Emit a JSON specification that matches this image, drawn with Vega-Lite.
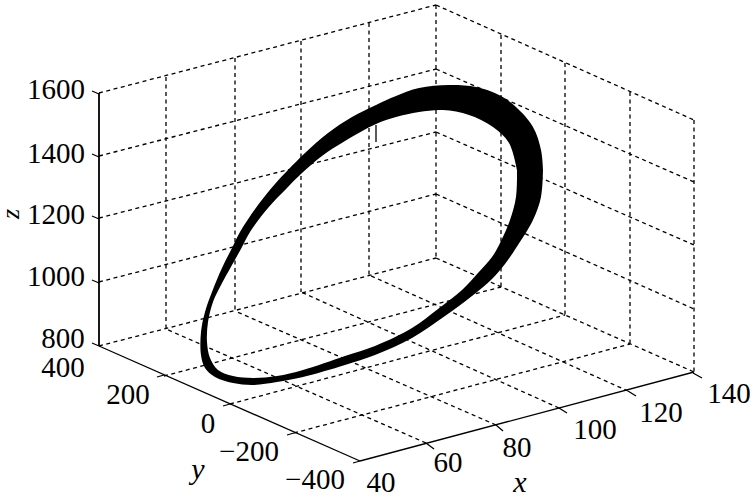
{
"$schema":"https://vega.github.io/schema/vega-lite/v6.json",
"width":753,"height":497,"padding":0,
"autosize":{"type":"none"},
"background":"white",
"view":{"stroke":null},
"datasets":{
"grid":[
{"h":166,"v":77,"h2":166,"v2":329},{"h":235,"v":58,"h2":235,"v2":311},{"h":301,"v":41,"h2":301,"v2":292},{"h":369,"v":23,"h2":369,"v2":275},{"h":436,"v":5,"h2":436,"v2":258},
{"h":501,"v":35,"h2":501,"v2":287},{"h":565,"v":63,"h2":565,"v2":315},{"h":630,"v":92,"h2":630,"v2":344},{"h":694,"v":120,"h2":694,"v2":372},
{"h":99,"v":93,"h2":436,"v2":5},{"h":99,"v":156,"h2":436,"v2":69},{"h":99,"v":218,"h2":436,"v2":132},{"h":99,"v":282,"h2":436,"v2":194},{"h":99,"v":346,"h2":436,"v2":258},
{"h":436,"v":5,"h2":694,"v2":120},{"h":436,"v":69,"h2":694,"v2":182},{"h":436,"v":132,"h2":694,"v2":245},{"h":436,"v":194,"h2":694,"v2":309},{"h":436,"v":258,"h2":694,"v2":372},
{"h":426,"v":443,"h2":166,"v2":329},{"h":496,"v":425,"h2":235,"v2":311},{"h":559,"v":408,"h2":301,"v2":292},{"h":628,"v":391,"h2":369,"v2":275},
{"h":164,"v":376,"h2":501,"v2":287},{"h":230,"v":404,"h2":565,"v2":315},{"h":294,"v":433,"h2":630,"v2":344}
],
"axes":[
{"h":360,"v":461,"h2":99,"v2":346},{"h":360,"v":461,"h2":694,"v2":372},
{"h":92,"v":91,"h2":99,"v2":94},{"h":92,"v":154,"h2":99,"v2":157},{"h":92,"v":216,"h2":99,"v2":219},{"h":92,"v":280,"h2":99,"v2":283},{"h":92,"v":343,"h2":99,"v2":346},
{"h":157,"v":377,"h2":164,"v2":375},{"h":223,"v":406,"h2":230,"v2":404},{"h":287,"v":435,"h2":294,"v2":433},{"h":353,"v":463,"h2":360,"v2":461},
{"h":426,"v":443,"h2":434,"v2":449},{"h":496,"v":425,"h2":503,"v2":431},{"h":559,"v":408,"h2":567,"v2":413},{"h":628,"v":391,"h2":636,"v2":396},{"h":693,"v":373,"h2":702,"v2":378},
{"h":376,"v":125,"h2":376,"v2":142}
],
"zaxis":[{"h":99,"v":93,"h2":99,"v2":346}],
"orbit":[
{"o":1,"h":543,"v":170},{"o":2,"h":541,"v":197},{"o":3,"h":533,"v":220},{"o":4,"h":516,"v":248},{"o":5,"h":505,"v":264},{"o":6,"h":492,"v":279},{"o":7,"h":472,"v":296},{"o":8,"h":445,"v":316},{"o":9,"h":412,"v":338},{"o":10,"h":375,"v":355},{"o":11,"h":345,"v":365},{"o":12,"h":303,"v":377},{"o":13,"h":277,"v":382},{"o":14,"h":253,"v":385},{"o":15,"h":233,"v":383},{"o":16,"h":215,"v":377},{"o":17,"h":205,"v":368},{"o":18,"h":201,"v":355},{"o":19,"h":201,"v":332},{"o":20,"h":205,"v":312},{"o":21,"h":212,"v":292},{"o":22,"h":222,"v":268},{"o":23,"h":232,"v":248},{"o":24,"h":240,"v":232},{"o":25,"h":258,"v":205},{"o":26,"h":275,"v":184},{"o":27,"h":288,"v":170},{"o":28,"h":305,"v":153},{"o":29,"h":328,"v":133},{"o":30,"h":352,"v":117},{"o":31,"h":376,"v":105},{"o":32,"h":396,"v":96},{"o":33,"h":419,"v":88},{"o":34,"h":449,"v":85},{"o":35,"h":476,"v":87},{"o":36,"h":499,"v":95},{"o":37,"h":516,"v":107},{"o":38,"h":533,"v":127},{"o":39,"h":541,"v":150},{"o":40,"h":543,"v":170},{"o":41,"h":543,"v":170},
{"o":42,"h":517,"v":170},{"o":43,"h":517,"v":170},{"o":44,"h":509,"v":143},{"o":45,"h":493,"v":127},{"o":46,"h":469,"v":115},{"o":47,"h":443,"v":110},{"o":48,"h":419,"v":112},{"o":49,"h":396,"v":117},{"o":50,"h":376,"v":124},{"o":51,"h":345,"v":141},{"o":52,"h":322,"v":156},{"o":53,"h":302,"v":173},{"o":54,"h":287,"v":188},{"o":55,"h":268,"v":208},{"o":56,"h":250,"v":232},{"o":57,"h":242,"v":247},{"o":58,"h":232,"v":265},{"o":59,"h":220,"v":287},{"o":60,"h":213,"v":302},{"o":61,"h":208,"v":322},{"o":62,"h":207,"v":342},{"o":63,"h":210,"v":358},{"o":64,"h":218,"v":370},{"o":65,"h":233,"v":376},{"o":66,"h":253,"v":378},{"o":67,"h":277,"v":376},{"o":68,"h":303,"v":370},{"o":69,"h":345,"v":356},{"o":70,"h":375,"v":346},{"o":71,"h":412,"v":328},{"o":72,"h":438,"v":309},{"o":73,"h":462,"v":290},{"o":74,"h":478,"v":273},{"o":75,"h":492,"v":257},{"o":76,"h":501,"v":241},{"o":77,"h":510,"v":220},{"o":78,"h":516,"v":197},{"o":79,"h":517,"v":170}
],
"labels":[
{"t":"1600","h":56,"v":90},{"t":"1400","h":56,"v":154},{"t":"1200","h":56,"v":215},{"t":"1000","h":56,"v":277},{"t":"800","h":63,"v":339},
{"t":"400","h":63,"v":368},{"t":"200","h":128,"v":395},{"t":"0","h":208,"v":424},{"t":"−200","h":249,"v":452},{"t":"−400","h":315,"v":480},
{"t":"40","h":381,"v":483},{"t":"60","h":448,"v":463},{"t":"80","h":517,"v":448},{"t":"100","h":595,"v":430},{"t":"120","h":661,"v":413},{"t":"140","h":729,"v":394}
],
"titles":[{"t":"x","h":520,"v":483},{"t":"y","h":198,"v":470}],
"ztitle":[{"t":"z","h":11,"v":214}]
},
"data":{"name":"grid"},
"encoding":{
"x":{"field":"h","type":"quantitative","scale":{"domain":[0,753],"nice":false,"zero":false},"axis":null},
"y":{"field":"v","type":"quantitative","scale":{"domain":[497,0],"nice":false,"zero":false},"axis":null}
},
"layer":[
{"data":{"name":"grid"},"mark":{"type":"rule","color":"black","strokeWidth":1.3,"strokeDash":[4,3.5]},"encoding":{"x2":{"field":"h2"},"y2":{"field":"v2"}}},
{"data":{"name":"axes"},"mark":{"type":"rule","color":"black","strokeWidth":1.3},"encoding":{"x2":{"field":"h2"},"y2":{"field":"v2"}}},
{"data":{"name":"zaxis"},"mark":{"type":"rule","color":"black","strokeWidth":1.8},"encoding":{"x2":{"field":"h2"},"y2":{"field":"v2"}}},
{"data":{"name":"orbit"},"mark":{"type":"line","filled":true,"fill":"black","stroke":null,"interpolate":"catmull-rom"},"encoding":{"order":{"field":"o","type":"quantitative"}}},
{"data":{"name":"labels"},"mark":{"type":"text","font":"Liberation Serif","fontSize":29,"color":"black","align":"center","baseline":"middle"},"encoding":{"text":{"field":"t"}}},
{"data":{"name":"titles"},"mark":{"type":"text","font":"Liberation Serif","fontStyle":"italic","fontSize":30,"color":"black","align":"center","baseline":"middle"},"encoding":{"text":{"field":"t"}}},
{"data":{"name":"ztitle"},"mark":{"type":"text","font":"Liberation Serif","fontStyle":"italic","fontSize":26,"angle":270,"color":"black","align":"center","baseline":"middle"},"encoding":{"text":{"field":"t"}}}
]
}
